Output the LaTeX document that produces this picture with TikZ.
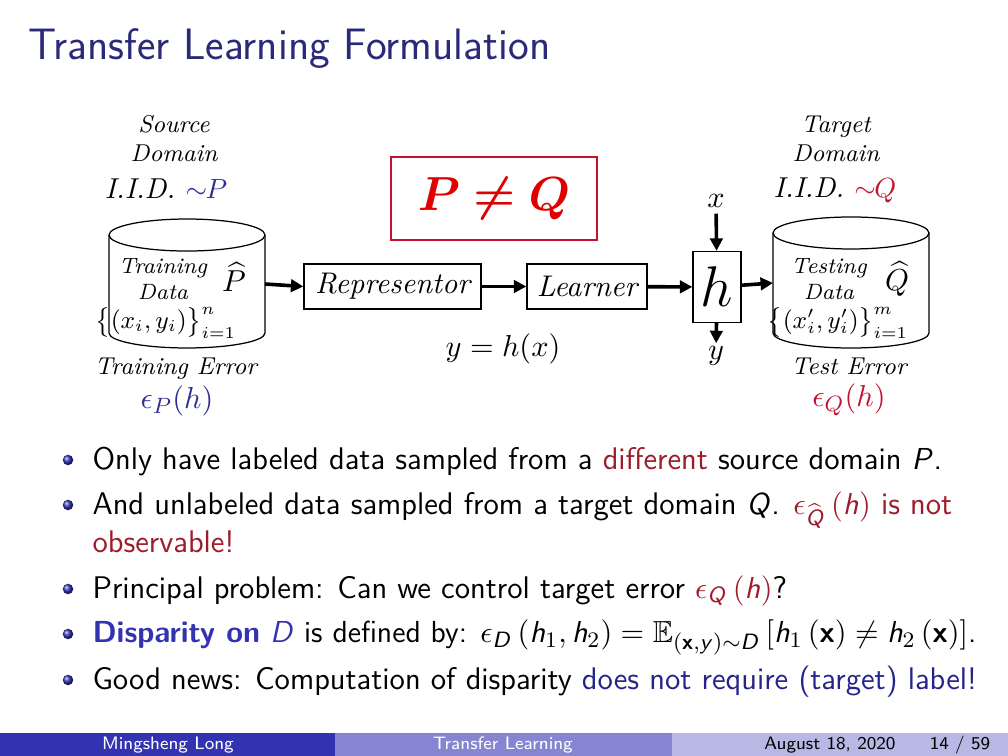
\documentclass[tikz,border=0pt]{standalone}
\usepackage{amsmath,amssymb}
\usetikzlibrary{arrows.meta,positioning}
\definecolor{SlideNavy}{HTML}{2A2A78}
\definecolor{SlideBlue}{HTML}{3333B2}
\definecolor{SlideMid}{HTML}{8585D1}
\definecolor{SlideLight}{HTML}{B8B8E4}
\definecolor{DiagBlue}{HTML}{2E2E96}
\definecolor{DiagRed}{HTML}{C41230}
\definecolor{NeqRed}{HTML}{E00000}
\definecolor{AlertRed}{HTML}{9E1B2A}
\definecolor{LinkBlue}{HTML}{24248A}
\DeclareMathAlphabet{\mathsfit}{OT1}{cmss}{m}{sl}
\DeclareMathAlphabet{\mathsfbf}{OT1}{cmss}{bx}{n}

\begin{document}
\begin{tikzpicture}[
  x=0.126984mm,y=0.126984mm,
  lbl/.style={font=\fontsize{8.8}{10.5}\selectfont\itshape,align=center,inner sep=0pt},
  inlbl/.style={font=\fontsize{8}{9.4}\selectfont\itshape,align=center,inner sep=0pt},
  stage/.style={draw,line width=0.45pt,inner sep=0pt,font=\fontsize{10.8}{12}\selectfont\itshape},
  cyl/.style={draw=none,inner sep=0pt,outer sep=0pt,minimum width=19.81mm},
  cylline/.style={line width=0.45pt},
  flow/.style={-{Triangle[length=4.5pt,width=4.5pt]},line width=1.3pt},
  bul/.style={circle,inner sep=0pt,minimum size=3.8pt,shading=ball,ball color=SlideBlue},
  body/.style={anchor=base west,inner sep=0pt,font=\fontsize{11.3}{13}\selectfont\sffamily},
  foot/.style={inner sep=0pt,font=\fontsize{6.5}{8}\selectfont\sffamily}
]
\useasboundingbox (0,0) rectangle (1008,-756);
\fill[white] (0,0) rectangle (1008,-756);

% title
\node[anchor=base west,inner sep=0pt,font=\fontsize{15.9}{18}\selectfont\sffamily,text=SlideNavy] (title) at (28,-60) {Transfer Learning Formulation};

% source side
\node[lbl] (srcname) at (174,-139) {Source\\Domain};
\node[lbl,font=\fontsize{10.4}{12}\selectfont\itshape] (srciid) at (166,-189) {I.I.D. {\color{DiagBlue}$\sim\!\!P$}};
\node[cyl,minimum height=12.44mm] (src) at (187,-284) {};
\draw[cylline] (src.north west) -- (src.south west) arc[start angle=180,end angle=360,x radius=78,y radius=15] -- (src.north east);
\draw[cylline] (src.north) ellipse[x radius=78,y radius=16];
\node[inlbl] (srcdata) at (163,-279) {Training\\Data};
\node[inner sep=0pt,font=\fontsize{11}{12}\selectfont] (phat) at (234,-277) {$\widehat{P}$};
\node[inner sep=0pt,font=\fontsize{9}{10}\selectfont] (srcset) at (166,-323) {$\big\{(x_i,y_i)\big\}_{i=1}^{n}$};
\node[lbl] (trainerr) at (176,-369) {Training Error};
\node[inner sep=0pt,font=\fontsize{11}{12}\selectfont,text=DiagBlue] (epsp) at (177,-401) {$\epsilon_P(h)$};

% pipeline
\node[stage,minimum width=22.48mm,minimum height=5.71mm] (rep) at (392.5,-286.5) {Representor};
\node[stage,minimum width=15.24mm,minimum height=5.71mm] (learn) at (587,-286.5) {Learner};
\node[stage,minimum width=6.1mm,minimum height=9.02mm,font=\fontsize{20}{22}\selectfont] (hyp) at (717,-287) {$h$};
\node[inner sep=2pt,font=\fontsize{11}{12}\selectfont] (xin) at (716,-201) {$x$};
\node[inner sep=1pt,font=\fontsize{11}{12}\selectfont] (yout) at (716,-356) {$y$};
\node[draw=DiagRed,line width=1pt,inner sep=0pt,minimum width=26.16mm,minimum height=10.54mm,font=\fontsize{18.5}{20}\selectfont,text=NeqRed] (neq) at (494,-198.5) {$\boldsymbol{P}\mathrel{\boldsymbol{\neq}}\boldsymbol{Q}$};
\node[inner sep=0pt,font=\fontsize{11}{12}\selectfont] (yeq) at (503,-349) {$y=h(x)$};

% target side
\node[lbl] (tgtname) at (836,-139) {Target\\Domain};
\node[lbl,font=\fontsize{10.4}{12}\selectfont\itshape] (tgtiid) at (835,-190) {I.I.D. {\color{DiagRed}$\sim\!\!Q$}};
\node[cyl,minimum height=12.7mm] (tgt) at (851,-283) {};
\draw[cylline] (tgt.north west) -- (tgt.south west) arc[start angle=180,end angle=360,x radius=78,y radius=15] -- (tgt.north east);
\draw[cylline] (tgt.north) ellipse[x radius=78,y radius=16];
\node[inlbl] (tgtdata) at (829,-279) {Testing\\Data};
\node[inner sep=0pt,font=\fontsize{11}{12}\selectfont] (qhat) at (897,-279) {$\widehat{Q}$};
\node[inner sep=0pt,font=\fontsize{9}{10}\selectfont] (tgtset) at (838,-323) {$\big\{(x'_i,y'_i)\big\}_{i=1}^{m}$};
\node[lbl] (testerr) at (849,-366) {Test Error};
\node[inner sep=0pt,font=\fontsize{11}{12}\selectfont,text=DiagRed] (epsq) at (849,-400) {$\epsilon_Q(h)$};

\draw[flow] (src.east) -- (rep.west);
\draw[flow] (rep) -- (learn);
\draw[flow] (learn) -- (hyp);
\draw[flow] (hyp) -- (tgt.west);
\draw[flow] (xin) -- (hyp);
\draw[flow] (hyp) -- (yout);

% bullets
\node[bul] (d1) at (68,-460) {};
\node[body] (t1) at (92,-469) {Only have labeled data sampled from a {\color{AlertRed}different} source domain $\mathsfit{P}$.};
\node[bul] (d2) at (68,-505) {};
\node[body] (t2) at (92,-514) {And unlabeled data sampled from a target domain $\mathsfit{Q}$. {\color{AlertRed}$\epsilon_{\widehat{\mathsfit{Q}}}\left(\mathsfit{h}\right)$ is not}};
\node[body] (t2b) at (92,-552) {\color{AlertRed}observable!};
\node[bul] (d3) at (68,-589) {};
\node[body] (t3) at (92,-598) {Principal problem: Can we control target error {\color{AlertRed}$\epsilon_{\mathsfit{Q}}\left(\mathsfit{h}\right)$}?};
\node[bul] (d4) at (68,-634) {};
\node[body,font=\fontsize{11}{13}\selectfont\sffamily] (t4) at (92,-643) {{\color{SlideBlue}\textbf{Disparity on} $\mathsfit{D}$} is defined by: $\epsilon_{\mathsfit{D}}\left(\mathsfit{h}_1,\mathsfit{h}_2\right)=\mathbb{E}_{(\mathsfbf{x},\mathsfit{y})\sim\mathsfit{D}}\left[\mathsfit{h}_1\left(\mathsfbf{x}\right)\neq\mathsfit{h}_2\left(\mathsfbf{x}\right)\right]$.};
\node[bul] (d5) at (68,-680) {};
\node[body] (t5) at (92,-689) {Good news: Computation of disparity {\color{LinkBlue}does not require (target) label!}};

% footline
\fill[SlideBlue] (0,-733) rectangle (335,-756);
\fill[SlideMid] (335,-733) rectangle (672,-756);
\fill[SlideLight] (672,-733) rectangle (1008,-756);
\node[foot,text=white] (fauthor) at (168,-745) {Mingsheng Long};
\node[foot,text=white] (ftitle) at (503,-745) {Transfer Learning};
\node[foot,text=black] (fdate) at (830,-745) {August 18, 2020};
\node[foot,text=black] (fpage) at (960,-745) {14 / 59};
\end{tikzpicture}
\end{document}
